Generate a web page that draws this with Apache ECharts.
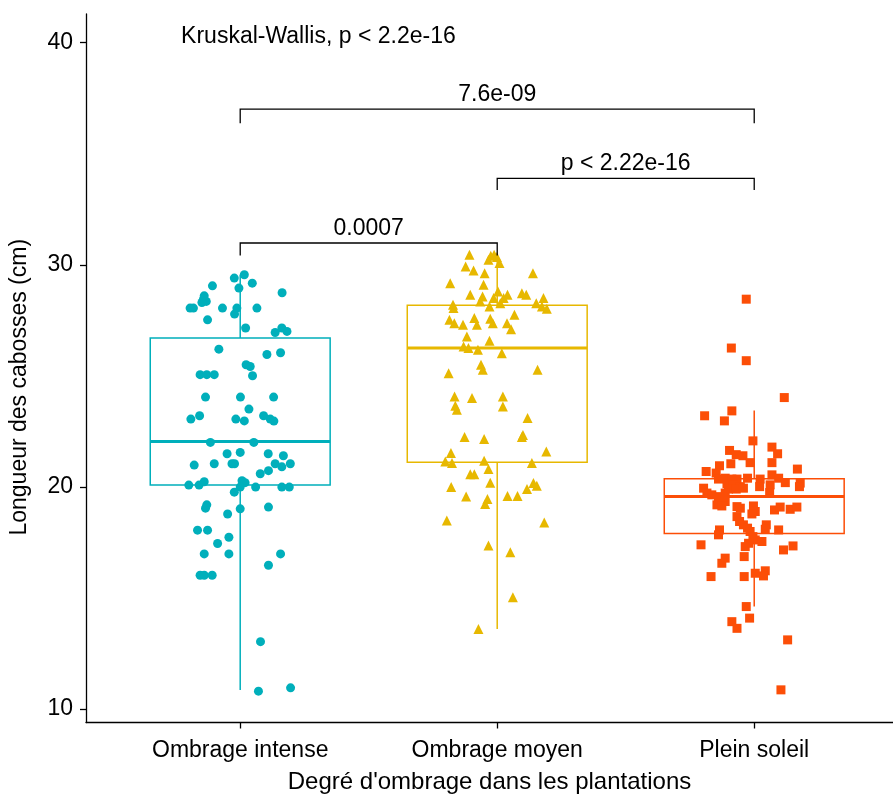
<!DOCTYPE html>
<html><head><meta charset="utf-8">
<script src="https://cdn.jsdelivr.net/npm/echarts@6/dist/echarts.min.js"></script>
<style>html,body{margin:0;padding:0;background:#fff}#c{width:893px;height:796px}</style>
</head><body><div id="c"></div>
<script>
const categories = ['Ombrage intense', 'Ombrage moyen', 'Plein soleil'];
const groupColors = ['#00AFBB', '#E7B800', '#FC4E07'];
const groupSymbols = ['circle', 'triangle', 'rect'];
const yTicks = [10, 20, 30, 40];
const xTitle = "Degré d'ombrage dans les plantations";
const yTitle = 'Longueur des cabosses (cm)';
const globalTest = 'Kruskal-Wallis, p < 2.2e-16';

// box statistics: [lower whisker, Q1, median, Q3, upper whisker]
const boxIntense = [10.85, 20.08, 22.04, 26.70, 29.55];
const boxMoyen = [13.60, 21.11, 26.25, 28.18, 30.42];
const boxSoleil = [14.61, 17.90, 19.56, 20.36, 23.44];

// pairwise comparisons
const bracketFrom = [1, 2, 1];
const bracketTo = [2, 3, 3];
const bracketLevel = [30.98, 33.89, 37.01];
const bracketTip = [30.42, 33.37, 36.37];
const bracketLabels = ['0.0007', 'p < 2.22e-16', '7.6e-09'];

// jittered observations: [horizontal jitter from category centre, length]
const ptsIntense = [[0.016,29.55],[-0.023,29.40],[-0.108,29.05],[0.047,29.17],[-0.005,28.95],[0.163,28.74],[-0.140,28.60],[-0.143,28.45],[-0.132,28.35],[-0.149,28.30],[-0.195,28.05],[-0.182,28.05],[-0.069,28.05],[-0.013,28.05],[0.065,28.05],[-0.022,27.78],[-0.127,27.52],[0.021,27.15],[0.136,26.95],[0.162,27.15],[0.182,27.00],[-0.083,26.20],[0.104,25.96],[0.157,26.04],[0.023,25.50],[0.039,25.42],[-0.156,25.05],[-0.130,25.05],[-0.101,25.05],[0.048,25.00],[-0.135,24.04],[0.001,24.04],[0.130,24.04],[0.034,23.50],[-0.192,23.05],[-0.158,23.20],[-0.017,23.05],[0.016,22.97],[0.091,23.20],[0.117,23.05],[0.131,22.96],[-0.116,22.00],[0.053,22.00],[-0.051,21.49],[0.000,21.55],[0.109,21.49],[0.168,21.40],[-0.179,20.98],[-0.101,21.04],[-0.032,21.04],[-0.022,21.04],[0.136,21.04],[0.162,20.90],[0.195,21.04],[0.078,20.59],[0.110,20.73],[-0.200,20.08],[-0.160,20.08],[-0.140,20.23],[0.007,20.28],[0.019,20.19],[0.000,19.99],[-0.023,19.76],[0.060,19.99],[0.162,19.99],[0.191,19.99],[-0.130,19.19],[-0.135,19.04],[-0.049,18.78],[0.000,19.01],[0.110,19.09],[-0.166,18.05],[-0.127,18.05],[-0.044,17.73],[-0.088,17.45],[-0.140,16.98],[-0.044,16.98],[0.157,16.98],[0.110,16.47],[-0.156,16.02],[-0.140,16.02],[-0.109,16.02],[0.079,13.03],[0.071,10.80],[0.196,10.95]];

const ptsMoyen = [[-0.108,30.45],[-0.025,30.40],[-0.034,30.22],[-0.012,30.45],[-0.001,30.35],[0.009,30.08],[-0.123,29.92],[-0.092,29.74],[-0.049,29.62],[0.139,29.62],[-0.183,29.17],[-0.053,29.10],[-0.105,28.65],[0.003,28.80],[-0.057,28.57],[-0.066,28.35],[-0.014,28.50],[0.025,28.50],[0.040,28.65],[0.096,28.72],[0.113,28.65],[0.180,28.50],[0.152,28.27],[0.174,28.12],[0.193,28.02],[-0.172,28.20],[-0.170,28.05],[-0.030,28.12],[0.012,28.27],[-0.186,27.52],[-0.167,27.37],[-0.133,27.30],[-0.089,27.60],[-0.079,27.30],[-0.027,27.57],[-0.017,27.37],[0.038,27.37],[0.054,27.10],[0.067,27.75],[-0.118,26.77],[-0.030,26.58],[-0.131,26.32],[-0.112,26.25],[-0.075,26.17],[0.018,26.02],[-0.063,25.50],[-0.056,25.27],[-0.189,25.12],[0.157,25.27],[-0.166,24.07],[-0.098,24.00],[0.022,24.07],[-0.163,23.65],[-0.157,23.47],[0.022,23.62],[0.118,23.10],[-0.127,22.24],[-0.051,22.15],[0.100,22.34],[0.096,22.24],[0.191,21.59],[-0.180,21.52],[-0.202,21.14],[-0.176,21.07],[-0.051,21.18],[0.135,21.07],[-0.034,20.80],[-0.105,20.57],[-0.089,20.57],[-0.027,20.19],[-0.179,19.99],[0.141,20.17],[0.116,19.90],[0.154,20.05],[-0.121,19.56],[-0.038,19.45],[-0.047,19.23],[0.040,19.59],[0.079,19.59],[-0.196,18.48],[0.183,18.39],[-0.034,17.36],[0.051,17.06],[0.061,15.03],[-0.073,13.60]];

const ptsSoleil = [[-0.031,28.45],[-0.089,26.25],[-0.031,25.68],[0.117,24.02],[-0.087,23.42],[-0.193,23.20],[-0.116,22.97],[-0.005,22.07],[-0.096,21.64],[0.069,21.79],[0.091,21.49],[-0.070,21.45],[-0.044,21.40],[-0.016,21.09],[-0.091,21.04],[0.069,21.09],[-0.135,20.95],[-0.187,20.69],[0.168,20.80],[-0.148,20.62],[-0.139,20.35],[-0.113,20.39],[-0.087,20.35],[-0.067,20.35],[-0.026,20.39],[-0.106,20.14],[-0.083,20.09],[-0.054,20.01],[-0.100,19.90],[-0.070,19.90],[-0.042,19.94],[0.023,20.35],[0.021,20.01],[0.069,20.54],[0.095,20.39],[0.121,20.19],[0.179,20.17],[0.176,20.01],[0.062,20.09],[0.060,19.74],[-0.197,19.94],[-0.184,19.72],[-0.165,19.64],[-0.139,19.56],[-0.113,19.72],[-0.113,19.34],[-0.145,19.19],[-0.126,19.14],[-0.067,19.11],[-0.054,19.04],[-0.003,19.14],[0.004,18.89],[-0.009,18.78],[0.079,18.96],[0.101,19.09],[0.140,18.99],[0.166,19.09],[-0.067,18.66],[-0.057,18.44],[-0.042,18.29],[-0.026,18.14],[-0.016,17.99],[-0.005,17.76],[0.004,17.61],[0.030,17.54],[0.047,18.29],[0.043,18.09],[0.095,18.06],[-0.135,18.06],[-0.139,17.84],[-0.207,17.39],[-0.035,17.31],[-0.022,17.46],[0.114,17.16],[0.151,17.34],[-0.113,16.79],[-0.126,16.56],[-0.039,16.86],[-0.168,15.96],[-0.039,15.96],[0.004,16.11],[0.043,16.22],[0.036,15.99],[-0.031,14.61],[-0.018,14.09],[-0.087,13.93],[-0.067,13.63],[0.130,13.11],[0.104,10.86]];

const FONT = '"Liberation Sans", Arial, sans-serif';
const TXT = '#000000';

const boxes = [boxIntense, boxMoyen, boxSoleil];
const pts = [ptsIntense, ptsMoyen, ptsSoleil];

const chart = echarts.init(document.getElementById('c'), null, {renderer: 'canvas'});

const boxData = boxes.map((b, i) => [i + 1].concat(b));
const bracketData = bracketFrom.map((f, i) => [f, bracketTo[i], bracketLevel[i], bracketTip[i]]);

function boxRender(params, api) {
  const x = api.value(0);
  const c = groupColors[params.dataIndex];
  const lo = api.coord([x, api.value(1)]);
  const q1 = api.coord([x, api.value(2)]);
  const md = api.coord([x, api.value(3)]);
  const q3 = api.coord([x, api.value(4)]);
  const hi = api.coord([x, api.value(5)]);
  const half = api.size([0.35, 0])[0];
  const lw = 1.5;
  return {
    type: 'group',
    children: [
      {type: 'line', shape: {x1: lo[0], y1: lo[1], x2: q1[0], y2: q1[1]}, style: {stroke: c, lineWidth: lw}},
      {type: 'line', shape: {x1: q3[0], y1: q3[1], x2: hi[0], y2: hi[1]}, style: {stroke: c, lineWidth: lw}},
      {type: 'rect', shape: {x: q1[0] - half, y: q3[1], width: 2 * half, height: q1[1] - q3[1]}, style: {fill: '#fff', stroke: c, lineWidth: lw}},
      {type: 'line', shape: {x1: md[0] - half, y1: md[1], x2: md[0] + half, y2: md[1]}, style: {stroke: c, lineWidth: 3}}
    ]
  };
}

function bracketRender(params, api) {
  const a = api.coord([api.value(0), api.value(2)]);
  const b = api.coord([api.value(1), api.value(2)]);
  const ta = api.coord([api.value(0), api.value(3)]);
  const tb = api.coord([api.value(1), api.value(3)]);
  return {
    type: 'group',
    children: [
      {type: 'polyline', shape: {points: [ta, a, b, tb]}, style: {stroke: '#000', lineWidth: 1.3, fill: null}},
      {type: 'text', style: {text: bracketLabels[params.dataIndex], x: (a[0] + b[0]) / 2, y: a[1] - 3,
        align: 'center', verticalAlign: 'bottom', fontSize: 23, fontFamily: FONT, fill: TXT}}
    ]
  };
}

const series = [
  {type: 'custom', name: 'boxes', renderItem: boxRender, data: boxData, encode: {x: 0, y: [1, 2, 3, 4, 5]}, z: 2, silent: true},
  {type: 'custom', name: 'brackets', renderItem: bracketRender, data: bracketData, encode: {x: [0, 1], y: [2, 3]}, z: 4, silent: true, clip: false},
  {type: 'custom', name: 'global', data: [[0.77, 40.25]], encode: {x: 0, y: 1}, z: 4, silent: true,
    renderItem: function (params, api) {
      const p = api.coord([api.value(0), api.value(1)]);
      return {type: 'text', style: {text: globalTest, x: p[0], y: p[1], align: 'left', verticalAlign: 'middle',
        fontSize: 23, fontFamily: FONT, fill: TXT}};
    }}
];
pts.forEach((arr, i) => {
  series.push({
    type: 'scatter', name: categories[i],
    data: arr.map(p => [i + 1 + p[0], p[1]]),
    symbol: groupSymbols[i],
    symbolSize: i === 1 ? 10 : 9,
    itemStyle: {color: groupColors[i], opacity: 1},
    z: 3, silent: true
  });
});

chart.setOption({
  animation: false,
  backgroundColor: '#ffffff',
  grid: {left: 86, right: 0, top: 14, bottom: 73.5, containLabel: false, outerBoundsMode: 'none'},
  xAxis: {
    type: 'value', min: 0.4, max: 3.54,
    name: xTitle, nameLocation: 'middle', nameGap: 48,
    nameTextStyle: {fontSize: 24, fontFamily: FONT, color: TXT},
    axisLine: {show: true, onZero: false, lineStyle: {color: '#000', width: 1.3}},
    axisTick: {show: true, length: 6, customValues: [1, 2, 3], lineStyle: {color: '#000', width: 1.3}},
    axisLabel: {customValues: [1, 2, 3], margin: 17, fontSize: 23, fontFamily: FONT, color: TXT,
      formatter: v => categories[Math.round(v) - 1] || ''},
    splitLine: {show: false}
  },
  yAxis: {
    type: 'value', min: 9.39, max: 41.29,
    name: yTitle, nameLocation: 'middle', nameGap: 55, nameRotate: 90,
    nameTextStyle: {fontSize: 23, fontFamily: FONT, color: TXT, padding: [0, 38, 0, 0]},
    axisLine: {show: true, onZero: false, lineStyle: {color: '#000', width: 1.3}},
    axisTick: {show: true, length: 6, customValues: yTicks, lineStyle: {color: '#000', width: 1.3}},
    axisLabel: {customValues: yTicks, margin: 13, fontSize: 23, fontFamily: FONT, color: TXT},
    splitLine: {show: false}
  },
  series: series
});
</script>
</body></html>
